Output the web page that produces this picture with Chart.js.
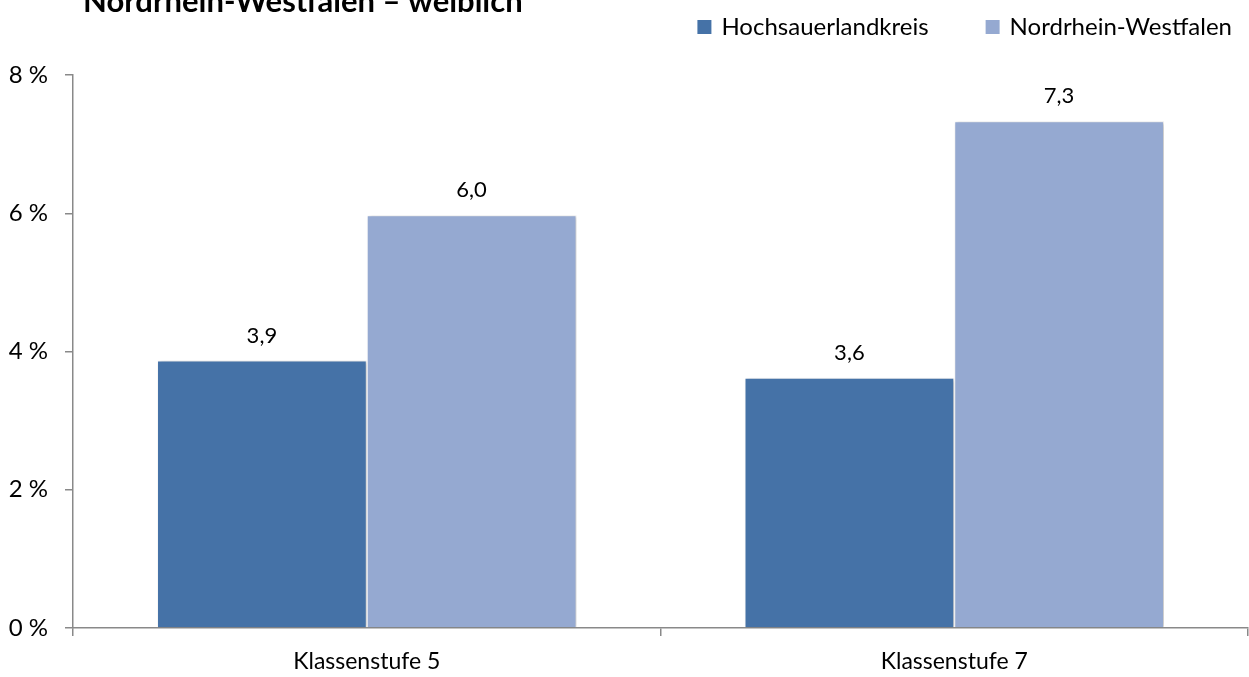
<!DOCTYPE html>
<html lang="de">
<head>
<meta charset="utf-8">
<title>Nordrhein-Westfalen – weiblich</title>
<script src="https://cdn.jsdelivr.net/npm/chart.js@4.4.0/dist/chart.umd.min.js"></script>
<style>
  html, body { margin: 0; padding: 0; background: #fff; }
  #wrap { width: 1249px; height: 677px; }
</style>
</head>
<body>
<div id="wrap"><canvas id="grafico" width="1249" height="677"></canvas></div>
<script>
// Daten
const kategorien = ['Klassenstufe 5', 'Klassenstufe 7'];
const hochsauerland = [3.87, 3.62];
const nrw = [5.97, 7.33];
const yTicks = [0, 2, 4, 6, 8];
const titel = 'Nordrhein-Westfalen – weiblich';

const schrift = 'Lato, "Open Sans", sans-serif';

// Titel (oben abgeschnitten wie im Original), Legende und Werte über den Balken
const extras = {
    id: 'extras',
    beforeDatasetsDraw(chart) {
        const ctx = chart.ctx;
        ctx.save();
        ctx.shadowColor = 'rgba(0,0,0,0.25)';
        ctx.shadowBlur = 4;
        ctx.shadowOffsetX = 2;
        ctx.shadowOffsetY = 1;
    },
    afterDatasetsDraw(chart) {
        const ctx = chart.ctx;
        ctx.restore();

        // Werte
        ctx.save();
        ctx.fillStyle = '#000';
        ctx.font = '22px ' + schrift;
        ctx.textAlign = 'center';
        ctx.textBaseline = 'middle';
        chart.data.datasets.forEach((ds, i) => {
            chart.getDatasetMeta(i).data.forEach((bar, j) => {
                const txt = ds.data[j].toFixed(1).replace('.', ',');
                ctx.fillText(txt, bar.x, bar.y - 25);
            });
        });
        ctx.restore();
    },
    afterDraw(chart) {
        const ctx = chart.ctx;
        ctx.save();
        // Titel
        ctx.fillStyle = '#000';
        ctx.font = 'bold 31px ' + schrift;
        ctx.textAlign = 'left';
        ctx.textBaseline = 'alphabetic';
        ctx.fillText(titel, 83, 12);

        // Legende, rechtsbündig
        ctx.font = '24px ' + schrift;
        ctx.textBaseline = 'middle';
        let x = 1232;
        const ds = chart.data.datasets.slice().reverse();
        ds.forEach(d => {
            const w = ctx.measureText(d.label).width;
            ctx.fillStyle = '#000';
            ctx.fillText(d.label, x - w, 27);
            ctx.fillStyle = d.backgroundColor;
            ctx.fillRect(x - w - 24, 20, 14, 14);
            x = x - w - 24 - 57;
        });
        ctx.restore();
    }
};

new Chart(document.getElementById('grafico'), {
    type: 'bar',
    data: {
        labels: kategorien,
        datasets: [
            {
                label: 'Hochsauerlandkreis',
                data: hochsauerland,
                backgroundColor: '#4572A7',
                borderColor: 'rgba(255,255,255,0.8)',
                borderWidth: 1,
                categoryPercentage: 0.714,
                barPercentage: 1.0
            },
            {
                label: 'Nordrhein-Westfalen',
                data: nrw,
                backgroundColor: '#95A9D1',
                borderColor: 'rgba(255,255,255,0.8)',
                borderWidth: 1,
                categoryPercentage: 0.714,
                barPercentage: 1.0
            }
        ]
    },
    options: {
        responsive: false,
        animation: false,
        layout: {
            padding: { top: 75, right: 1, bottom: 0, left: 0 }
        },
        plugins: {
            legend: { display: false },
            tooltip: { enabled: false },
            title: { display: false }
        },
        scales: {
            x: {
                grid: {
                    offset: true,
                    drawOnChartArea: false,
                    drawTicks: true,
                    tickLength: 8,
                    color: '#898989',
                    lineWidth: 1.5
                },
                border: { color: '#898989', width: 1.5 },
                ticks: {
                    color: '#000',
                    font: { family: schrift, size: 23 },
                    padding: 12
                },
                afterFit(scale) { scale.height = 49; }
            },
            y: {
                min: 0,
                max: 8,
                afterBuildTicks(scale) {
                    scale.ticks = yTicks.map(v => ({ value: v }));
                },
                grid: {
                    drawOnChartArea: false,
                    drawTicks: true,
                    tickLength: 8,
                    color: '#898989',
                    lineWidth: 1.5
                },
                border: { color: '#898989', width: 1.5 },
                ticks: {
                    color: '#000',
                    font: { family: schrift, size: 24 },
                    padding: 17,
                    callback: v => v + ' %'
                },
                afterFit(scale) { scale.width = 73; }
            }
        }
    },
    plugins: [extras]
});
</script>
</body>
</html>
